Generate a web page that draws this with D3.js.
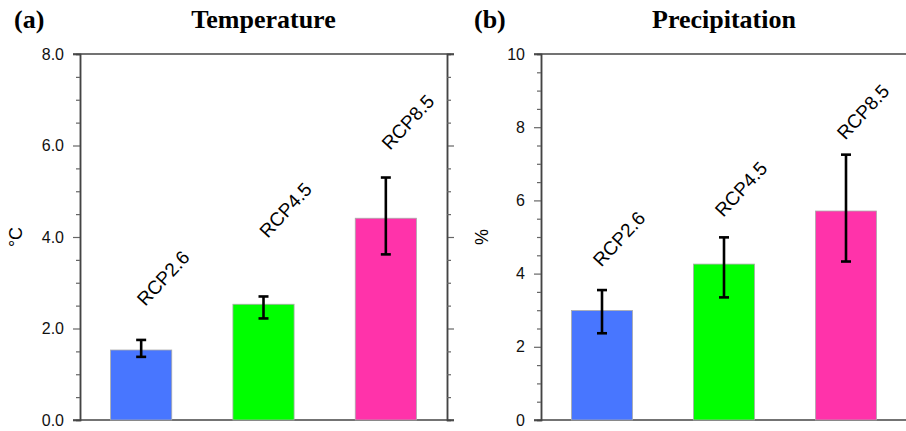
<!DOCTYPE html>
<html>
<head>
<meta charset="utf-8">
<script src="https://cdn.jsdelivr.net/npm/d3@7"></script>
<style>
  body { margin: 0; background: #fff; }
  svg { display: block; }
</style>
</head>
<body>
<div id="chart"></div>
<script>
// values
const scenarios = ["RCP2.6", "RCP4.5", "RCP8.5"]
const barColors = ["#4876FF", "#00FF00", "#FF33AA"]

const tempMean = [1.53, 2.53, 4.41]
const tempLow = [1.38, 2.22, 3.62]
const tempHigh = [1.75, 2.70, 5.30]
const tempLabelAt = [3.10, 4.59, 6.51]
const tempTicks = [0, 2, 4, 6, 8]

const precMean = [2.99, 4.26, 5.71]
const precLow = [2.37, 3.35, 4.33]
const precHigh = [3.55, 4.99, 7.25]
const precLabelAt = [4.95, 6.31, 8.42]
const precTicks = [0, 2, 4, 6, 8, 10]

const width = 906, height = 431

const svg = d3.select("#chart").append("svg")
    .attr("width", width)
    .attr("height", height)

draw_panel = function(p) {
    const x = d3.scaleBand()
        .domain(scenarios)
        .range([p.left, p.right])
        .paddingInner(0.5)
        .paddingOuter(0.25)

    const y = d3.scaleLinear()
        .domain([0, p.max])
        .range([p.bottom, p.top])

    const g = svg.append("g")

    // minor ticks every 0.5
    const minor = d3.range(0, p.max + 0.001, 0.5).filter(v => !p.ticks.includes(v))

    // left + right axes
    const left = g.append("g")
        .attr("transform", `translate(${p.left},0)`)
        .call(d3.axisLeft(y).tickValues(p.ticks).tickSize(7).tickPadding(9)
            .tickFormat(d3.format(p.fmt)))
    left.selectAll("text")
        .style("font-family", "'Liberation Sans', Arial, sans-serif")
        .style("font-size", "16px")
        .attr("fill", "#111")
    left.append("g").call(d3.axisLeft(y).tickValues(minor).tickSize(4).tickFormat(""))

    const right = g.append("g")
        .attr("transform", `translate(${p.right},0)`)
        .call(d3.axisRight(y).tickValues(p.ticks).tickSize(7).tickFormat(""))
    right.append("g").call(d3.axisRight(y).tickValues(minor).tickSize(4).tickFormat(""))

    g.selectAll(".domain").attr("stroke", "#444").attr("stroke-width", 1.5)
    g.selectAll(".tick line").attr("stroke", "#666").attr("stroke-width", 1.2)

    // top and bottom frame
    g.append("line")
        .attr("x1", p.left - 7).attr("x2", p.right + 7)
        .attr("y1", p.top).attr("y2", p.top)
        .attr("stroke", "#444").attr("stroke-width", 1.5)
    g.append("line")
        .attr("x1", p.left - 7).attr("x2", p.right + 7)
        .attr("y1", p.bottom).attr("y2", p.bottom)
        .attr("stroke", "#444").attr("stroke-width", 1.5)

    const data = scenarios.map((s, i) => ({
        name: s, mean: p.mean[i], low: p.low[i], high: p.high[i],
        labelAt: p.labelAt[i], color: barColors[i]
    }))

    g.selectAll("rect.bar")
        .data(data)
        .enter()
        .append("rect")
          .attr("class", "bar")
          .attr("x", d => x(d.name))
          .attr("y", d => y(d.mean))
          .attr("width", x.bandwidth())
          .attr("height", d => p.bottom - y(d.mean))
          .attr("fill", d => d.color)
          .attr("stroke", "#aaa")
          .attr("stroke-width", 0.8)

    // error bars
    const cx = d => x(d.name) + x.bandwidth() / 2
    const err = g.selectAll("g.err")
        .data(data)
        .enter()
        .append("g")
    err.append("line")
        .attr("x1", cx).attr("x2", cx)
        .attr("y1", d => y(d.low)).attr("y2", d => y(d.high))
    err.append("line")
        .attr("x1", d => cx(d) - 5).attr("x2", d => cx(d) + 5)
        .attr("y1", d => y(d.high)).attr("y2", d => y(d.high))
    err.append("line")
        .attr("x1", d => cx(d) - 5).attr("x2", d => cx(d) + 5)
        .attr("y1", d => y(d.low)).attr("y2", d => y(d.low))
    err.selectAll("line").attr("stroke", "#000").attr("stroke-width", 2.6)

    // rotated scenario names
    g.selectAll("text.scen")
        .data(data)
        .enter()
        .append("text")
          .attr("class", "scen")
          .attr("transform", d => `translate(${cx(d) + p.labelShift},${y(d.labelAt)}) rotate(-47)`)
          .attr("text-anchor", "middle")
          .attr("dy", "0.35em")
          .style("font-family", "'Liberation Sans', Arial, sans-serif")
          .style("font-size", "19px")
          .text(d => d.name)

    // y axis label
    g.append("text")
        .attr("transform", `translate(${p.unitX},${(p.top + p.bottom) / 2}) rotate(-90)`)
        .attr("text-anchor", "middle")
        .attr("dy", "0.35em")
        .style("font-family", "'Liberation Sans', Arial, sans-serif")
        .style("font-size", "18px")
        .text(p.unit)

    // titles
    g.append("text")
        .attr("x", (p.left + p.right) / 2)
        .attr("y", 28)
        .attr("text-anchor", "middle")
        .style("font-family", "'Liberation Serif', 'Times New Roman', serif")
        .style("font-weight", "bold")
        .style("font-size", "26px")
        .text(p.title)
    g.append("text")
        .attr("x", p.tagX)
        .attr("y", 28)
        .style("font-family", "'Liberation Serif', 'Times New Roman', serif")
        .style("font-weight", "bold")
        .style("font-size", "26px")
        .text(p.tag)
}

draw_panel({
    left: 80, right: 447, top: 54, bottom: 420, max: 8,
    ticks: tempTicks, fmt: ".1f",
    mean: tempMean, low: tempLow, high: tempHigh, labelAt: tempLabelAt,
    labelShift: 22, unit: "°C", unitX: 16,
    title: "Temperature", tag: "(a)", tagX: 14
})

draw_panel({
    left: 541, right: 907, top: 54, bottom: 420, max: 10,
    ticks: precTicks, fmt: "d",
    mean: precMean, low: precLow, high: precHigh, labelAt: precLabelAt,
    labelShift: 17, unit: "%", unitX: 482,
    title: "Precipitation", tag: "(b)", tagX: 474
})
</script>
</body>
</html>
